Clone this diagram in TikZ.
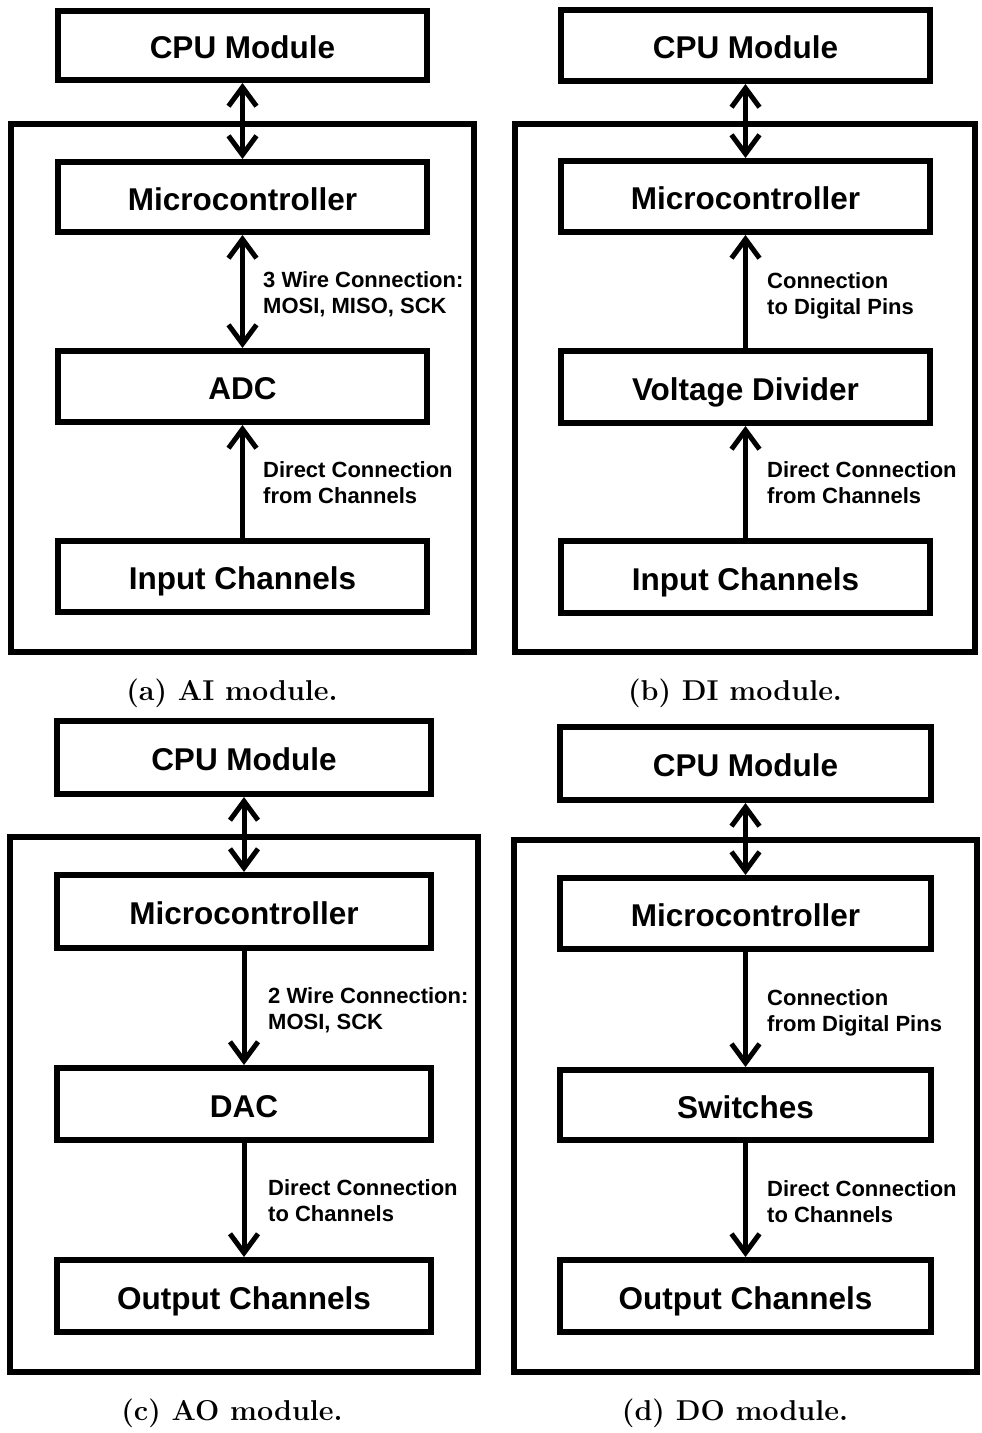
\documentclass[tikz,border=0pt]{standalone}
\usepackage{fontspec}
\newfontfamily\arialfont{Liberation Sans}
\usetikzlibrary{arrows.meta}
\tikzset{
  box/.style 2 args={draw, line width=6pt, rectangle, inner sep=0pt,
    minimum width=#1, minimum height=#2, text height=26.5pt, text depth=0pt,
    font=\fontsize{31.5}{36}\selectfont\arialfont\bfseries},
  frame/.style={draw, line width=6pt},
  conn/.style={line width=5pt, arrows={-Straight Barb[length=19pt,width=28pt]}},
  biconn/.style={line width=5pt, arrows={Straight Barb[length=19pt,width=28pt]-Straight Barb[length=19pt,width=28pt]}},
  lbl/.style={inner sep=0pt, anchor=north west, align=left,
    font=\fontsize{22}{26.5}\selectfont\arialfont\bfseries},
  capt/.style={inner sep=0pt, anchor=base, font=\fontsize{28.7}{34}\selectfont\bfseries}
}
\begin{document}
\begin{tikzpicture}[x=1pt,y=-1pt]
\fill[white] (0,0) rectangle (982,1433);
\useasboundingbox (0,0) rectangle (982,1433);

% ---------- (a) AI module ----------
\draw[frame] (11,124) rectangle (474,652);
\node[box={369pt}{69pt}] (cpuA) at (242.5,45.5) {CPU Module};
\node[box={369pt}{70pt}] (micA) at (242.5,197) {Microcontroller};
\node[box={369pt}{71pt}] (adcA) at (242.5,386.5) {ADC};
\node[box={369pt}{71pt}] (inA) at (242.5,576.5) {Input Channels};
\draw[biconn] (cpuA.south) -- (micA.north);
\draw[biconn] (micA.south) -- (adcA.north);
\draw[conn] (inA.north) -- (adcA.south);
\node[lbl] (lA1) at (263,271) {3 Wire Connection:\\MOSI, MISO, SCK};
\node[lbl] (lA2) at (263,461) {Direct Connection\\from Channels};
\node[capt] (capA) at (232,700) {(a) AI module.};

% ---------- (b) DI module ----------
\draw[frame] (515,124) rectangle (975,652);
\node[box={369pt}{71pt}] (cpuB) at (745.5,45.5) {CPU Module};
\node[box={369pt}{71pt}] (micB) at (745.5,196.5) {Microcontroller};
\node[box={369pt}{72pt}] (vdB) at (745.5,387) {Voltage Divider};
\node[box={369pt}{72pt}] (inB) at (745.5,577) {Input Channels};
\draw[biconn] (cpuB.south) -- (micB.north);
\draw[conn] (vdB.north) -- (micB.south);
\draw[conn] (inB.north) -- (vdB.south);
\node[lbl] (lB1) at (767,272) {Connection\\to Digital Pins};
\node[lbl] (lB2) at (767,461) {Direct Connection\\from Channels};
\node[capt] (capB) at (735,700) {(b) DI module.};

% ---------- (c) AO module ----------
\draw[frame] (10,837) rectangle (478,1372);
\node[box={374pt}{73pt}] (cpuC) at (244,757.5) {CPU Module};
\node[box={374pt}{73pt}] (micC) at (244,911.5) {Microcontroller};
\node[box={374pt}{72pt}] (dacC) at (244,1104) {DAC};
\node[box={374pt}{72pt}] (outC) at (244,1296) {Output Channels};
\draw[biconn] (cpuC.south) -- (micC.north);
\draw[conn] (micC.south) -- (dacC.north);
\draw[conn] (dacC.south) -- (outC.north);
\node[lbl] (lC1) at (268,987) {2 Wire Connection:\\MOSI, SCK};
\node[lbl] (lC2) at (268,1179) {Direct Connection\\to Channels};
\node[capt] (capC) at (232,1420) {(c) AO module.};

% ---------- (d) DO module ----------
\draw[frame] (514,840) rectangle (977,1372);
\node[box={371pt}{73pt}] (cpuD) at (745.5,763.5) {CPU Module};
\node[box={371pt}{71pt}] (micD) at (745.5,913.5) {Microcontroller};
\node[box={371pt}{70pt}] (swD) at (745.5,1105) {Switches};
\node[box={371pt}{72pt}] (outD) at (745.5,1296) {Output Channels};
\draw[biconn] (cpuD.south) -- (micD.north);
\draw[conn] (micD.south) -- (swD.north);
\draw[conn] (swD.south) -- (outD.north);
\node[lbl] (lD1) at (767,989) {Connection\\from Digital Pins};
\node[lbl] (lD2) at (767,1180) {Direct Connection\\to Channels};
\node[capt] (capD) at (735,1420) {(d) DO module.};
\end{tikzpicture}
\end{document}
